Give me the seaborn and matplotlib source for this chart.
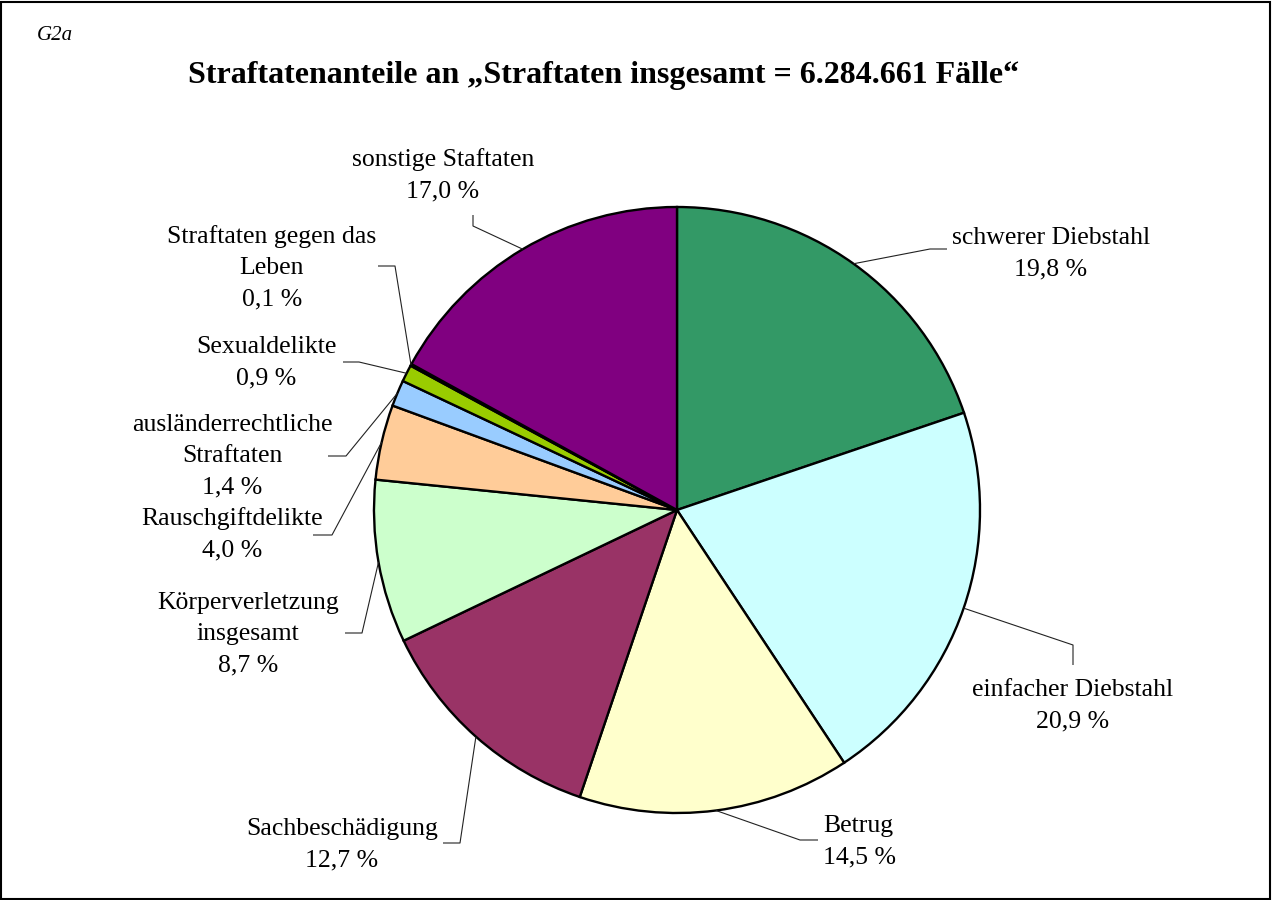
import numpy as np
import matplotlib
matplotlib.use("Agg")
import matplotlib.pyplot as plt
import seaborn as sns

# ---- data ----
categories = ["schwerer Diebstahl", "einfacher Diebstahl", "Betrug", "Sachbeschädigung",
              "Körperverletzung\ninsgesamt", "Rauschgiftdelikte", "ausländerrechtliche\nStraftaten",
              "Sexualdelikte", "Straftaten gegen das\nLeben", "sonstige Staftaten"]
shares = [19.8, 20.9, 14.5, 12.7, 8.7, 4.0, 1.4, 0.9, 0.1, 17.0]
share_labels = ["19,8 %", "20,9 %", "14,5 %", "12,7 %", "8,7 %", "4,0 %", "1,4 %", "0,9 %", "0,1 %", "17,0 %"]
colors = ["#339966", "#CCFFFF", "#FFFFCC", "#993366", "#CCFFCC", "#FFCC99", "#99CCFF",
          "#99CC00", "#FF6600", "#800080"]
title = "Straftatenanteile an \u201eStraftaten insgesamt = 6.284.661 Fälle\u201c"

sns.set_theme(style="white")
plt.rcParams['font.family'] = ['Liberation Serif', 'DejaVu Serif']
plt.rcParams['text.color'] = 'black'

W, H = 1273, 900
fig = plt.figure(figsize=(W / 100, H / 100), dpi=100)
ax = fig.add_axes([0, 0, 1, 1])

def P(x, y):
    return (x, H - y)

cx, cy = P(677, 510)
R = 303
wedges, _ = ax.pie(shares, colors=colors, startangle=90, counterclock=False,
                   center=(cx, cy), radius=R,
                   wedgeprops=dict(edgecolor="black", linewidth=1.7))
ax.set_xlim(0, W)
ax.set_ylim(0, H)
ax.set_aspect("equal")
ax.axis("off")

# label layout: text centre, elbow, leader end (pixel coords, y down)
layout = [
    ((1051, 254), (930, 249), (947, 249), "center"),
    ((1073, 706), (1073, 645), (1073, 665), "center"),
    ((823, 842), (800, 840), (818, 840), "left"),
    ((342, 845), (460, 843), (443, 843), "center"),
    ((248, 634), (362, 633), (345, 633), "center"),
    ((232, 534), (332, 535), (313, 535), "center"),
    ((232, 456), (346, 456), (328, 456), "center"),
    ((266, 363), (359, 362), (343, 362), "center"),
    ((272, 268), (395, 266), (378, 266), "center"),
    ((443, 175), (473, 226), (473, 215), "center"),
]

for w, cat, lab, (tpos, elbow, end, ha) in zip(wedges, categories, share_labels, layout):
    ang = np.deg2rad((w.theta1 + w.theta2) / 2)
    sx, sy = cx + R * np.cos(ang), cy + R * np.sin(ang)
    ex, ey = P(*elbow)
    nx, ny = P(*end)
    ax.plot([sx, ex, nx], [sy, ey, ny], color="#222222", lw=0.8, solid_capstyle="butt")
    ax.text(*P(*tpos), f"{cat}\n{lab}", ha=ha, va="center", fontsize=18.5,
            linespacing=1.55, multialignment="center" if ha == "center" else "left",
            color="black")

fig.text(37 / W, 1 - 36 / H, "G2a", fontsize=15, style="italic", ha="left", va="center",
         color="black")
fig.text(604 / W, 1 - 75 / H, title, fontsize=23, fontweight="bold", ha="center", va="center",
         color="black")

fig.patches.append(plt.Rectangle((0.001, 0.001), 0.997, 0.997, transform=fig.transFigure,
                                 fill=False, edgecolor="black", linewidth=1.5))

fig.savefig("out.png", dpi=100, facecolor="white")
